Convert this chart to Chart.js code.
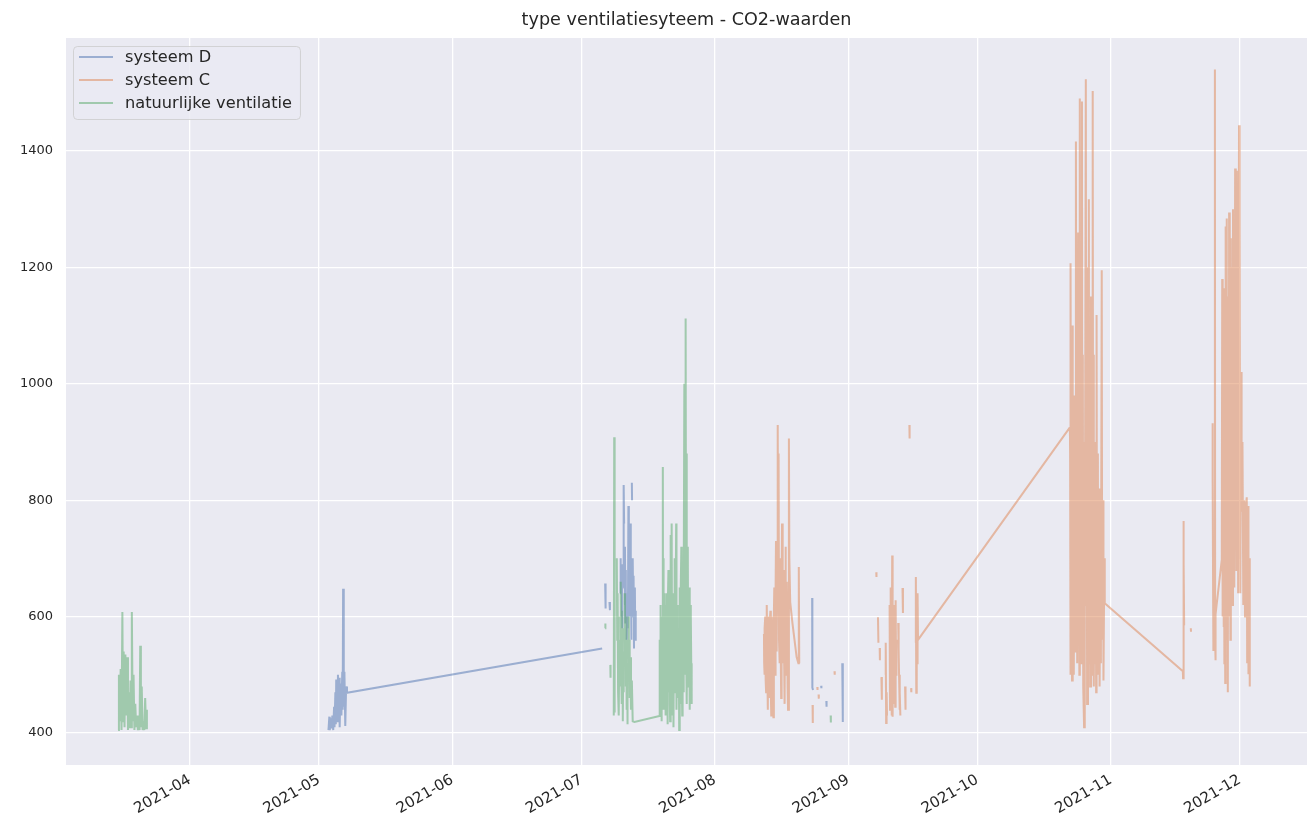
<!DOCTYPE html>
<html>
<head>
<meta charset="utf-8">
<script src="https://cdn.jsdelivr.net/npm/chart.js@4.4.0/dist/chart.umd.min.js"></script>
<style>
  html, body { margin: 0; padding: 0; background: #ffffff; }
  #wrap { width: 1311px; height: 827px; }
</style>
</head>
<body>
<div id="wrap"><canvas id="myChart" width="1311" height="827"></canvas></div>
<script>
// dag van het jaar (1 jan = 0), CO2 in ppm ; null = onderbreking in de meting
const maandDagen = [90, 120, 151, 181, 212, 243, 273, 304, 334];
const maandLabels = ['2021-04', '2021-05', '2021-06', '2021-07', '2021-08', '2021-09', '2021-10', '2021-11', '2021-12'];
const co2Ticks = [400, 600, 800, 1000, 1200, 1400];
const titel = 'type ventilatiesyteem - CO2-waarden';

const systeemD = [
  [122.2, 405], [122.4, 428], [122.5, 405], [122.7, 425], [122.9, 408], [123.1, 430], [123.3, 405], [123.5, 445],
  [123.6, 410], [123.8, 470], [123.9, 415], [124.0, 492], [124.2, 420], [124.4, 500], [124.5, 430], [124.7, 495],
  [124.8, 410], [125.0, 485], [125.2, 430], [125.4, 505], [125.5, 440], [125.6, 648], [125.7, 560], [125.8, 445],
  [125.9, 505], [126.1, 412], [126.3, 480], [126.5, 469], [185.8, 545],
  null,
  [186.5, 657], [186.6, 614], null,
  [187.5, 625], [187.6, 611], null,
  [190.0, 640], [190.1, 700], null,
  [190.3, 600], [190.4, 690], [190.5, 580], null,
  [190.7, 650], [190.8, 826], [190.9, 760], null,
  [191.0, 620], [191.1, 720], [191.2, 590], [191.3, 680], null,
  [191.5, 560], [191.6, 640], [191.7, 580], null,
  [191.8, 610], [191.9, 790], [192.0, 700], [192.1, 600], null,
  [192.2, 650], [192.3, 760], [192.4, 640], [192.5, 700], [192.6, 560], null,
  [192.7, 830], [192.75, 800], null,
  [192.8, 600], [192.9, 700], [193.0, 620], [193.1, 670], [193.2, 545], null,
  [193.3, 590], [193.4, 650], [193.5, 560], [193.6, 610], null,
  [234.6, 632], [234.65, 478], [234.8, 474], null,
  [236.7, 481], [236.75, 477], null,
  [237.9, 455], [237.95, 445], null,
  [241.6, 520], [241.7, 419], [241.75, 432]
];

const systeemC = [
  // augustus
  [223.4, 570], [223.45, 520], [223.5, 500], [223.6, 580], [223.7, 600], [223.8, 490], [223.9, 470], [224.0, 560],
  [224.1, 620], [224.2, 500], [224.3, 440], [224.4, 600], [224.5, 560], [224.6, 480], [224.7, 460], [224.8, 590],
  [224.9, 610], [225.0, 470], [225.1, 430], [225.2, 600], [225.3, 580], [225.4, 500], [225.5, 480], [225.6, 427],
  [225.7, 600], [225.8, 650], [225.9, 520], [226.0, 500], [226.1, 640], [226.2, 730], [226.3, 560], [226.4, 540],
  [226.5, 700], [226.6, 929], [226.7, 620], [226.8, 880], [226.9, 560], [227.0, 520], [227.1, 660], [227.2, 700],
  [227.3, 540], [227.4, 460], [227.5, 640], [227.6, 760], [227.7, 580], [227.8, 520], [227.9, 620], [228.0, 680],
  [228.1, 520], [228.2, 450], [228.3, 640], [228.4, 720], [228.5, 560], [228.6, 500], [228.7, 660], [228.8, 600],
  [228.9, 480], [229.0, 440], [229.2, 906], [229.3, 700], [229.5, 625], [230.0, 590], [230.5, 560], [231.0, 530],
  [231.4, 520], [231.5, 685], [231.6, 520],
  null,
  [234.7, 448], [234.75, 417], null,
  [235.8, 479], [235.85, 474], null,
  [236.1, 466], [236.15, 459], null,
  [239.8, 506], [239.85, 500], null,
  // september
  [249.5, 676], [249.55, 668], null,
  [249.9, 599], [250.0, 555], null,
  [250.3, 546], [250.35, 525], null,
  [250.7, 496], [250.8, 457], null,
  [251.6, 500], [251.7, 555], [251.8, 417], [251.9, 470], [252.0, 430], null,
  [252.6, 620], [252.7, 440], [252.8, 650], [252.9, 480], [253.0, 560], [253.1, 430], [253.2, 705], [253.3, 428],
  [253.4, 600], [253.5, 450], [253.6, 620], [253.7, 480], [253.8, 572], [253.9, 445], [254.0, 628], [254.1, 500],
  [254.2, 560], null,
  [254.6, 589], [254.7, 543], [254.8, 500], [254.9, 440], [255.0, 470], [255.1, 430], null,
  [255.6, 649], [255.7, 606], null,
  [256.2, 480], [256.3, 440], null,
  [257.2, 929], [257.25, 906], null,
  [257.6, 477], [257.65, 470], null,
  [258.6, 555], [258.7, 668], [258.8, 469], [258.9, 600], [259.0, 520], [259.1, 640], [259.2, 560],
  // oktober / november
  [294.5, 925], [294.55, 880], [294.6, 500], [294.7, 1207], [294.8, 520], [294.9, 900], [295.0, 490], [295.1, 1100],
  [295.2, 560], [295.3, 840], [295.4, 500], [295.6, 980], [295.7, 540], [295.9, 1416], [296.0, 600], [296.1, 1150],
  [296.2, 520], [296.4, 1260], [296.5, 560], [296.6, 900], [296.7, 500], [296.8, 1490], [296.9, 620], [297.0, 1100],
  [297.1, 520], [297.3, 1485], [297.4, 600], [297.5, 1050], [297.6, 480], [297.8, 410], [297.9, 900], [298.0, 540],
  [298.2, 1523], [298.3, 620], [298.4, 1000], [298.5, 450], [298.7, 1200], [298.8, 520], [298.9, 1317], [299.0, 600],
  [299.1, 980], [299.2, 480], [299.4, 1150], [299.5, 540], [299.6, 860], [299.7, 500], [299.8, 1503], [299.9, 620],
  [300.0, 1050], [300.1, 480], [300.3, 900], [300.4, 520], [300.5, 760], [300.6, 470], [300.7, 1118], [300.8, 560],
  [301.0, 880], [301.1, 500], [301.3, 820], [301.4, 480], [301.6, 700], [301.7, 520], [301.9, 1195], [302.0, 560],
  [302.2, 800], [302.3, 490], [302.5, 700], [302.6, 623],
  [320.75, 506], [320.8, 494], [320.85, 680], [320.9, 764], [320.95, 590], [321.0, 690], [321.05, 585], null,
  [322.6, 580], [322.65, 574], null,
  // december
  [327.6, 830], [327.65, 932], [327.7, 840], [327.8, 612], [327.85, 541], [328.1, 600], [328.2, 1540], [328.25, 560],
  [328.3, 525], [328.4, 604], [329.8, 698], [329.9, 1180], [330.0, 600], [330.1, 1164], [330.2, 582], [330.3, 980],
  [330.4, 520], [330.5, 760], [330.6, 486], [330.7, 1270], [330.8, 620], [330.9, 1284], [331.0, 560], [331.1, 1000],
  [331.2, 470], [331.3, 1150], [331.4, 600], [331.5, 1294], [331.6, 700], [331.7, 1180], [331.8, 560], [331.9, 1250],
  [332.0, 720], [332.1, 1200], [332.2, 620], [332.4, 1300], [332.5, 800], [332.6, 1220], [332.7, 650], [332.9, 1370],
  [333.0, 728], [333.1, 1240], [333.2, 680], [333.3, 1366], [333.4, 900], [333.5, 1100], [333.6, 640], [333.8, 1444],
  [333.9, 700], [334.0, 1260], [334.1, 640], [334.3, 1020], [334.4, 780], [334.6, 900], [334.8, 620], [335.0, 800],
  [335.2, 600], [335.4, 790], [335.6, 805], [335.7, 520], [335.9, 790], [336.0, 501], [336.2, 700], [336.3, 480]
];

const natuurlijk = [
  // maart
  [73.3, 405], [73.5, 500], [73.7, 420], [73.9, 510], [74.1, 405], [74.3, 608], [74.45, 420], [74.6, 540],
  [74.8, 410], [75.0, 535], [75.2, 430], [75.4, 530], [75.6, 405], [75.8, 470], [76.0, 408], [76.2, 490],
  [76.4, 410], [76.5, 608], [76.7, 420], [76.9, 500], [77.1, 405], [77.3, 450], [77.5, 410], [77.7, 430],
  [77.9, 405], [78.1, 420], [78.3, 405], [78.45, 550], [78.6, 410], [78.8, 480], [79.0, 405], [79.2, 420],
  [79.4, 405], [79.6, 460], [79.8, 408], [80.0, 440],
  null,
  // juli
  [186.5, 580], [186.55, 588], null,
  [187.7, 517], [187.75, 495], null,
  [188.5, 430], [188.6, 908], [188.7, 435], null,
  [189.2, 700], [189.3, 560], [189.4, 640], [189.5, 470], [189.6, 600], [189.7, 430], [189.8, 560], [189.9, 480], null,
  [190.1, 660], [190.2, 520], [190.3, 610], [190.4, 450], [190.5, 580], [190.6, 420], [190.7, 540], [190.8, 470], null,
  [191.0, 640], [191.1, 530], [191.2, 600], [191.3, 480], [191.4, 560], [191.5, 440], [191.6, 520], [191.7, 415], null,
  [191.9, 600], [192.0, 500], [192.1, 560], [192.2, 460], [192.3, 530], [192.5, 440], [192.7, 490], [192.9, 420],
  [193.3, 419], [199.1, 429],
  [199.15, 520], [199.2, 560], [199.25, 440], [199.3, 600], [199.35, 430], [199.4, 620], [199.45, 480], [199.5, 580],
  [199.55, 440], [199.6, 540], [199.65, 420], [199.7, 600], [199.8, 470], [199.9, 857], [199.95, 500], [200.0, 440],
  [200.05, 620], [200.1, 700], [200.15, 480], [200.2, 460], [200.25, 600], [200.3, 450], [200.4, 640], [200.45, 500],
  [200.5, 430], [200.55, 620], [200.6, 600], [200.7, 460], [200.8, 450], [200.85, 640], [200.9, 560], [200.95, 480],
  [201.0, 415], [201.1, 600], [201.2, 680], [201.25, 500], [201.3, 470], [201.4, 640], [201.5, 580], [201.55, 450],
  [201.6, 420], [201.7, 740], [201.75, 520], [201.8, 620], [201.9, 460], [202.0, 760], [202.05, 500], [202.1, 430],
  [202.2, 620], [202.3, 640], [202.35, 480], [202.4, 410], [202.5, 600], [202.6, 700], [202.7, 520], [202.8, 470],
  [202.9, 640], [203.0, 760], [203.05, 520], [203.1, 440], [203.2, 620], [203.3, 600], [203.4, 460], [203.5, 480],
  [203.6, 580], [203.7, 405], [203.8, 650], [203.85, 500], [203.9, 600], [204.0, 450], [204.1, 640], [204.2, 720],
  [204.3, 520], [204.4, 430], [204.5, 580], [204.6, 520], [204.7, 470], [204.8, 640], [204.9, 1000], [205.0, 500],
  [205.1, 700], [205.2, 1112], [205.3, 560], [205.4, 880], [205.5, 450], [205.6, 640], [205.7, 720], [205.8, 480],
  [205.9, 600], [206.0, 650], [206.1, 500], [206.2, 440], [206.3, 620], [206.4, 600], [206.5, 520], [206.6, 450],
  null,
  // augustus
  [238.9, 430], [238.95, 418]
];

// omzetten naar punten voor chart.js
function naarPunten(rijen) {
  const punten = [];
  let laatste = 0;
  rijen.forEach(r => {
    if (r === null) {
      punten.push({ x: laatste, y: null });
    } else {
      punten.push({ x: r[0], y: r[1] });
      laatste = r[0];
    }
  });
  return punten;
}

const fontNaam = "'DejaVu Sans', sans-serif";
const tekstKleur = '#262626';

// achtergrond van het plotvlak
const achtergrond = {
  id: 'achtergrond',
  beforeDraw(chart) {
    const { ctx, chartArea: a } = chart;
    ctx.save();
    ctx.fillStyle = '#EAEAF2';
    ctx.fillRect(a.left, a.top, a.right - a.left, a.bottom - a.top);
    ctx.restore();
  }
};

// titel gecentreerd boven het plotvlak (zoals matplotlib)
const titelBoven = {
  id: 'titelBoven',
  afterDraw(chart) {
    const { ctx, chartArea: a } = chart;
    ctx.save();
    ctx.font = '17.6px ' + fontNaam;
    ctx.fillStyle = tekstKleur;
    ctx.textAlign = 'center';
    ctx.textBaseline = 'middle';
    ctx.fillText(titel, (a.left + a.right) / 2, 20);
    ctx.restore();
  }
};

// legende binnen het plotvlak, linksboven
const legendeBinnen = {
  id: 'legendeBinnen',
  afterDraw(chart) {
    const { ctx, chartArea: a } = chart;
    const sets = chart.data.datasets;
    ctx.save();
    ctx.font = '16.2px ' + fontNaam;
    let maxW = 0;
    sets.forEach(s => { maxW = Math.max(maxW, ctx.measureText(s.label).width); });
    const x0 = a.left + 7, y0 = a.top + 8;
    const w = 52 + maxW + 8, h = 73;
    ctx.beginPath();
    ctx.roundRect(x0 + 0.5, y0 + 0.5, w, h, 4);
    ctx.fillStyle = 'rgba(234,234,242,0.8)';
    ctx.fill();
    ctx.strokeStyle = 'rgba(204,204,204,0.8)';
    ctx.lineWidth = 1;
    ctx.stroke();
    sets.forEach((s, i) => {
      const y = y0 + 11 + i * 23;
      ctx.beginPath();
      ctx.moveTo(x0 + 6, y);
      ctx.lineTo(x0 + 40, y);
      ctx.strokeStyle = s.borderColor;
      ctx.lineWidth = 2;
      ctx.stroke();
      ctx.fillStyle = tekstKleur;
      ctx.textBaseline = 'middle';
      ctx.fillText(s.label, x0 + 52, y + 1);
    });
    ctx.restore();
  }
};

const config = {
  type: 'line',
  data: {
    datasets: [
      { label: 'systeem D', data: naarPunten(systeemD), borderColor: 'rgba(76,114,176,0.5)', order: 3 },
      { label: 'systeem C', data: naarPunten(systeemC), borderColor: 'rgba(221,132,82,0.5)', order: 2 },
      { label: 'natuurlijke ventilatie', data: naarPunten(natuurlijk), borderColor: 'rgba(85,168,104,0.5)', order: 1 }
    ]
  },
  options: {
    responsive: false,
    animation: false,
    layout: { padding: { left: 0, right: 4, top: 38, bottom: 0 } },
    datasets: {
      line: { borderWidth: 2, pointRadius: 0, tension: 0, spanGaps: false, fill: false }
    },
    scales: {
      x: {
        type: 'linear',
        min: 61.2,
        max: 349.6,
        afterBuildTicks: scale => { scale.ticks = maandDagen.map(v => ({ value: v })); },
        afterFit: scale => { scale.height = 62; },
        grid: { color: '#ffffff', lineWidth: 1.3, drawTicks: false },
        border: { display: false },
        ticks: {
          autoSkip: false,
          minRotation: 30,
          maxRotation: 30,
          padding: 6,
          color: tekstKleur,
          font: { family: fontNaam, size: 15 },
          callback: (v, i) => maandLabels[i]
        }
      },
      y: {
        min: 345,
        max: 1594,
        afterBuildTicks: scale => { scale.ticks = co2Ticks.map(v => ({ value: v })); },
        afterFit: scale => { scale.width = 66; },
        grid: { color: '#ffffff', lineWidth: 1.3, drawTicks: false },
        border: { display: false },
        ticks: {
          padding: 13,
          color: tekstKleur,
          font: { family: fontNaam, size: 13 },
          callback: v => String(v)
        }
      }
    },
    plugins: {
      legend: { display: false },
      tooltip: { enabled: false },
      title: { display: false }
    }
  },
  plugins: [achtergrond, titelBoven, legendeBinnen]
};

const myChart = new Chart(document.getElementById('myChart'), config);
</script>
</body>
</html>
